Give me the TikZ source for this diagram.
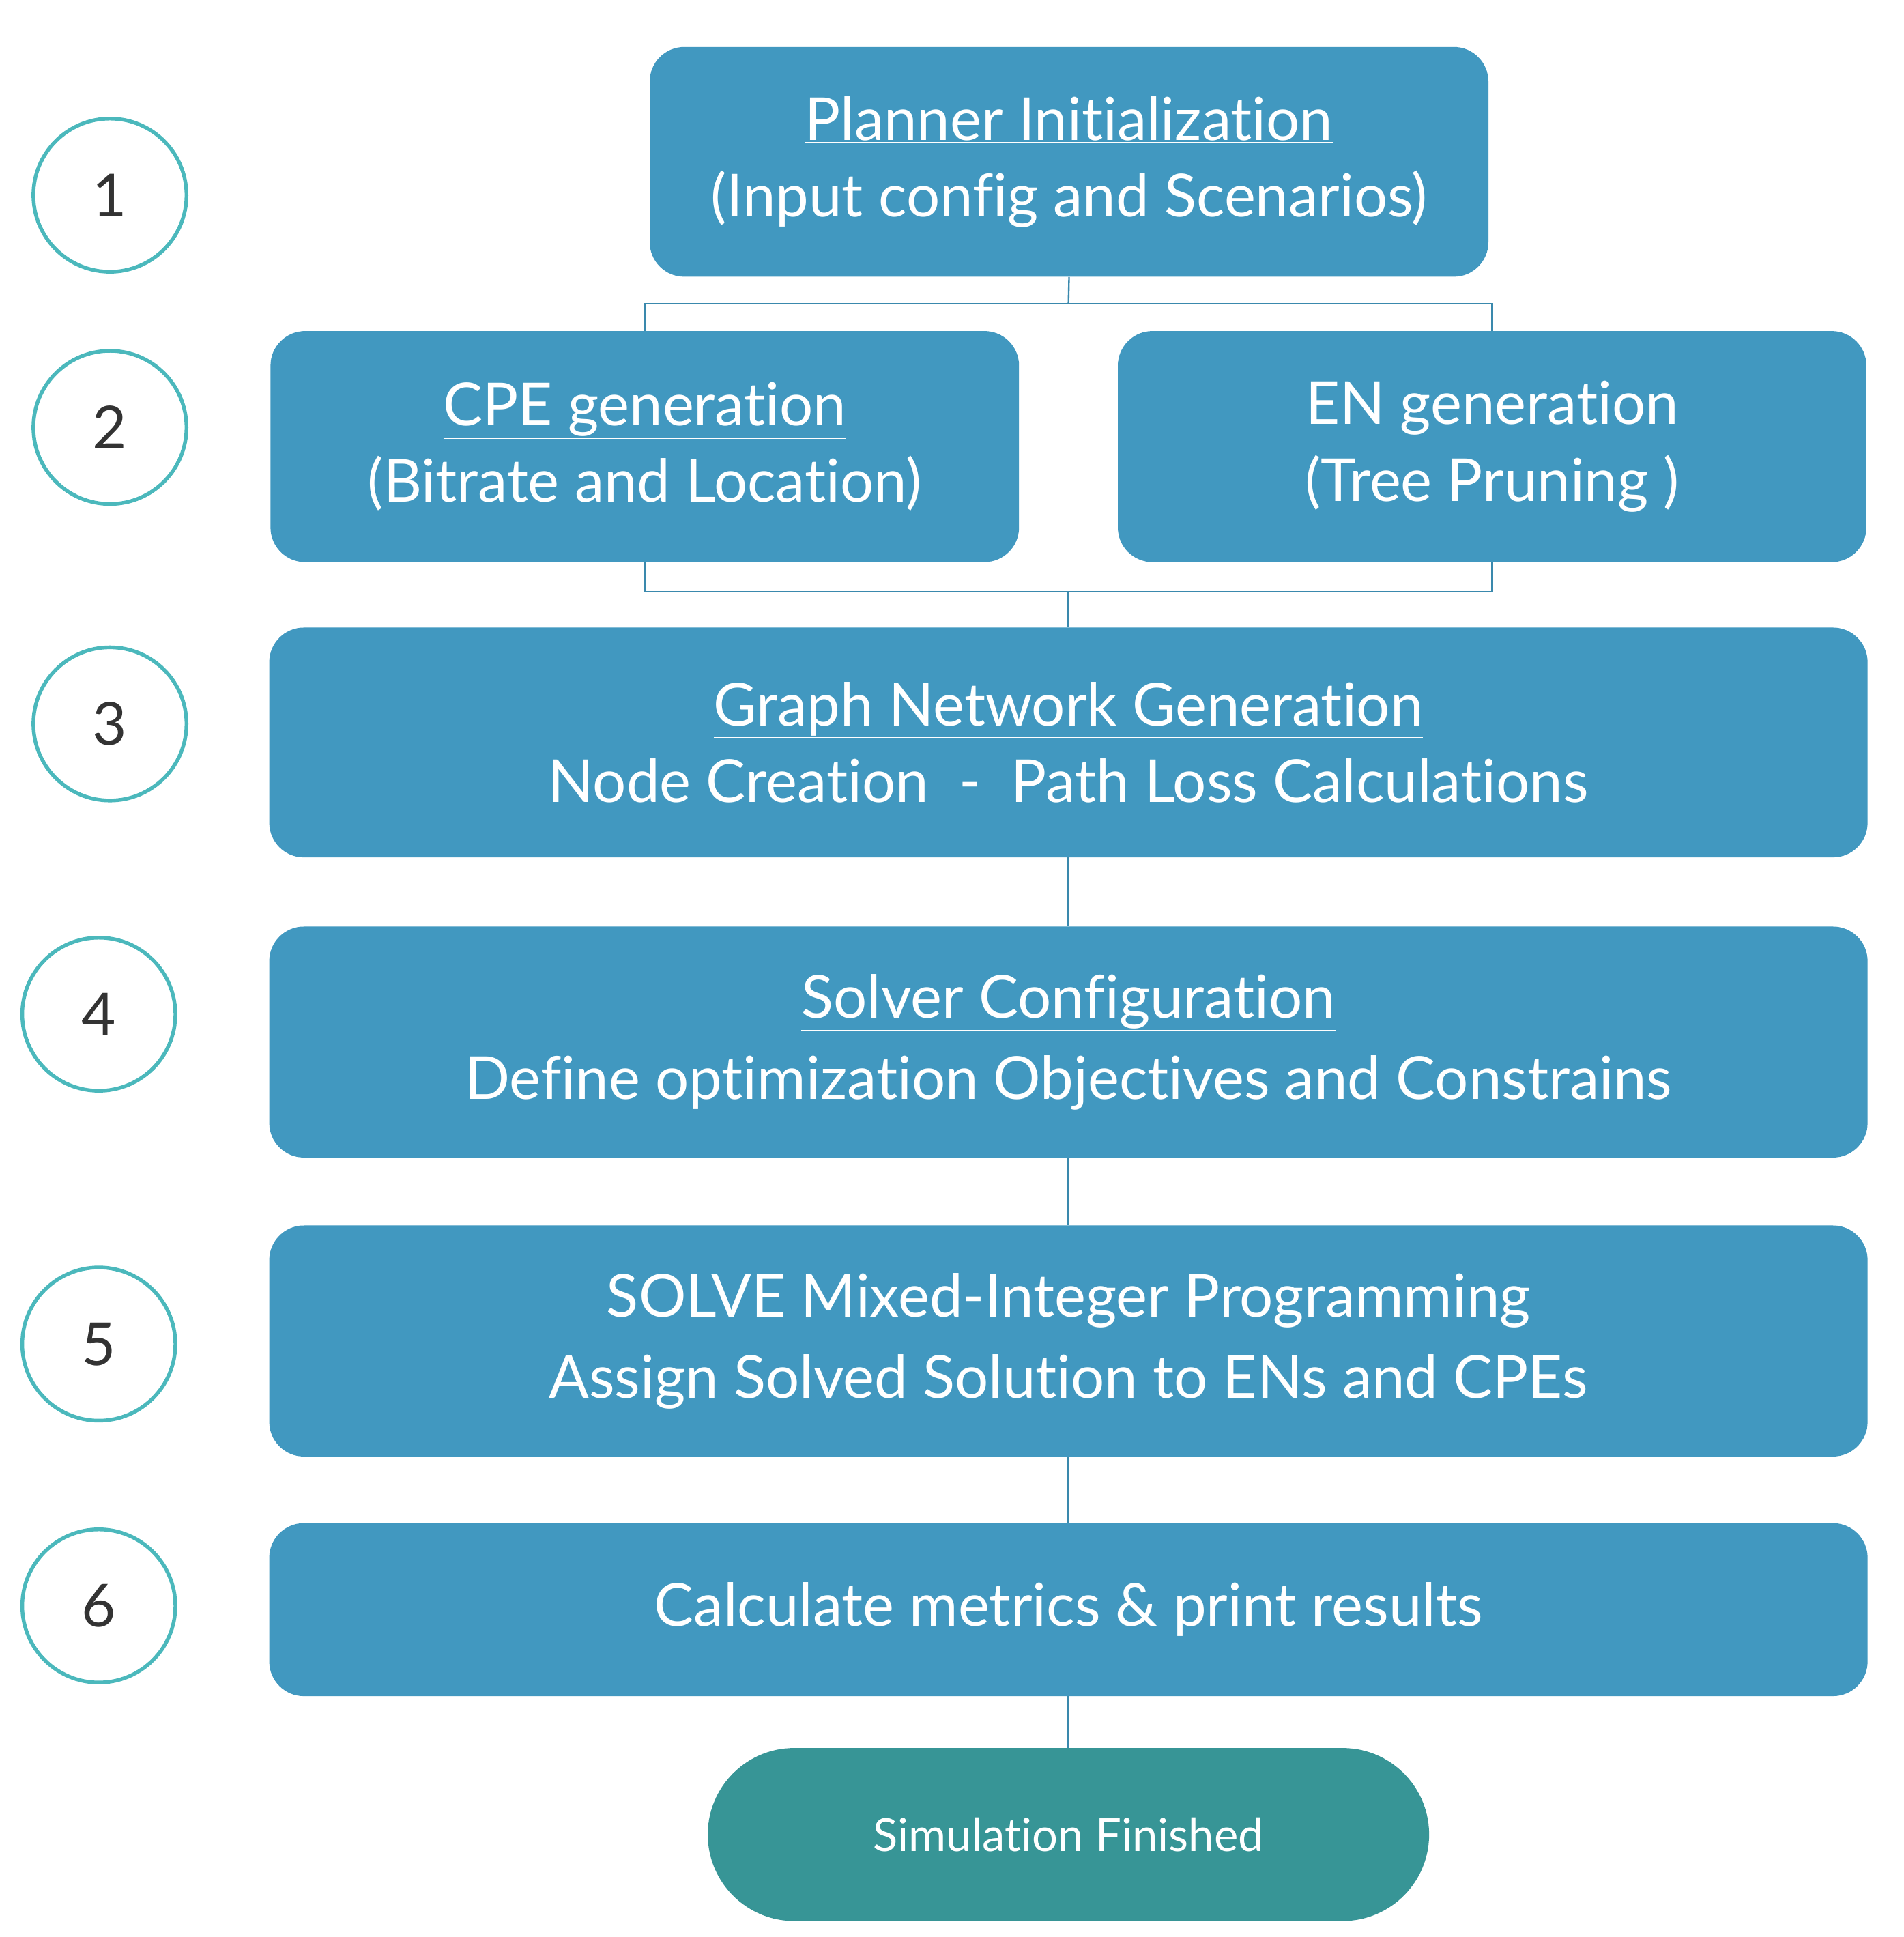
\documentclass[tikz,border=0pt]{standalone}
\usepackage{fontspec}
\setmainfont{Lato}[Ligatures={NoCommon}]
\definecolor{boxc}{HTML}{4198C0}
\definecolor{endc}{HTML}{379596}
\definecolor{circc}{HTML}{4BB8BC}
\definecolor{numc}{HTML}{333333}
\newcommand\myul[1]{\underline{#1}}
\begin{document}
\begin{tikzpicture}[x=1pt,y=-1pt,
 box/.style={fill=boxc,rounded corners=28pt,text=white,font=\fontsize{48}{62}\selectfont,align=center,inner sep=0pt},
 num/.style={circle,draw=circc,line width=3pt,minimum size=124pt,text=numc,font=\fontsize{48}{56}\selectfont},
 ln/.style={draw=boxc!90!black,line width=1.3pt}]
\useasboundingbox (0,0) rectangle (1541,1568);
\node[box,minimum width=679pt,minimum height=186pt] (b1) at (865.5,131) {\myul{Planner Initialization}\\[0pt](Input config and Scenarios)};
\node[box,minimum width=606pt,minimum height=187pt] (b2a) at (522,361.5) {\myul{CPE generation}\\[0pt](Bitrate and Location)};
\node[box,minimum width=606pt,minimum height=187pt] (b2b) at (1208,361.5) {\myul{EN generation}\\[0pt](Tree Pruning )};
\node[box,minimum width=1294pt,minimum height=186pt] (b3) at (865,601) {\myul{Graph Network Generation}\\[0pt]Node Creation~~-~~Path Loss Calculations};
\node[box,minimum width=1294pt,minimum height=187pt] (b4) at (865,843.5) {\myul{Solver Configuration}\\[4pt]Define optimization Objectives and Constrains};
\node[box,minimum width=1294pt,minimum height=187pt] (b5) at (865,1085.5) {SOLVE Mixed-Integer Programming\\[4pt]Assign Solved Solution to ENs and CPEs};
\node[box,minimum width=1294pt,minimum height=140pt] (b6) at (865,1303) {Calculate metrics \& print results};
\node[fill=endc,rounded corners=70pt,minimum width=584pt,minimum height=140pt,text=white,font=\fontsize{37}{44}\selectfont] (e) at (865,1485) {Simulation Finished};
\node[num] (c1) at (89,158) {1};
\node[num] (c2) at (89,346) {2};
\node[num] (c3) at (89,586) {3};
\node[num] (c4) at (80,821) {4};
\node[num] (c5) at (80,1088) {5};
\node[num] (c6) at (80,1300) {6};
\coordinate (t1) at (865,246);
\coordinate (t2) at (865,479);
\draw[ln] (b1.south) -- (t1);
\draw[ln] (b2a.north) |- (t1) -| (b2b.north);
\draw[ln] (b2a.south) |- (t2) -| (b2b.south);
\draw[ln] (t2) -- (b3.north);
\draw[ln] (b3.south) -- (b4.north);
\draw[ln] (b4.south) -- (b5.north);
\draw[ln] (b5.south) -- (b6.north);
\draw[ln] (b6.south) -- (e.north);
\end{tikzpicture}
\end{document}
